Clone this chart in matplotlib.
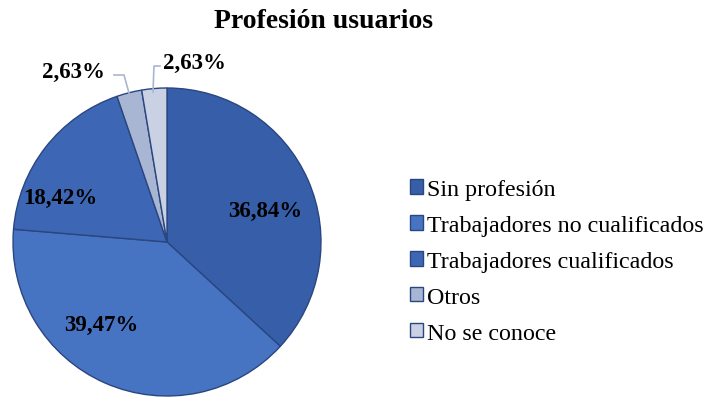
import matplotlib
matplotlib.use("Agg")
import matplotlib.pyplot as plt

categorias = ["Sin profesión", "Trabajadores no cualificados",
              "Trabajadores cualificados", "Otros", "No se conoce"]
porcentajes = [36.84, 39.47, 18.42, 2.63, 2.63]
etiquetas = ["36,84%", "39,47%", "18,42%", "2,63%", "2,63%"]
colores = ["#365ea9", "#4673c2", "#3d67b5", "#a9b6d3", "#c9d1e3"]

plt.rcParams["font.family"] = ["Liberation Serif", "DejaVu Serif"]

W, H = 709, 402
fig = plt.figure(figsize=(W / 100, H / 100), dpi=100)
ax = fig.add_axes([0, 0, 1, 1])

cx, cy, r = 167, H - 243, 154
wedges, _ = ax.pie(porcentajes, colors=colores, startangle=90, counterclock=False,
                   center=(cx, cy), radius=r, frame=True,
                   wedgeprops=dict(edgecolor="#2a4680", linewidth=1.0))
ax.set_xlim(0, W)
ax.set_ylim(0, H)
ax.set_aspect("equal")
ax.axis("off")

# etiquetas dentro de las porciones (coordenadas en píxeles de la imagen)
pos = [(265, 211), (101, 325), (60, 198), (73, 72), (194, 63)]
for (x, y), t in zip(pos, etiquetas):
    ax.text(x, H - y, t, ha="center", va="center", fontsize=16.5, fontweight="bold")

# líneas guía de las porciones pequeñas
ax.plot([114, 124, 129], [H - 76, H - 76, H - 94], color="#a9b6d3", lw=1.2)
ax.plot([160, 154, 153], [H - 67, H - 67, H - 93], color="#a9b6d3", lw=1.2)

ax.text(324, H - 22, "Profesión usuarios", ha="center", va="center",
        fontsize=20, fontweight="bold")

fig.legend(wedges, categorias, loc="upper left", bbox_to_anchor=(410 / W, 1 - 180 / H),
           frameon=False, fontsize=17.3, handlelength=0.55, handleheight=0.55,
           handletextpad=0.15, labelspacing=0.62, borderaxespad=0, borderpad=0)

fig.savefig("out.png", dpi=100)
